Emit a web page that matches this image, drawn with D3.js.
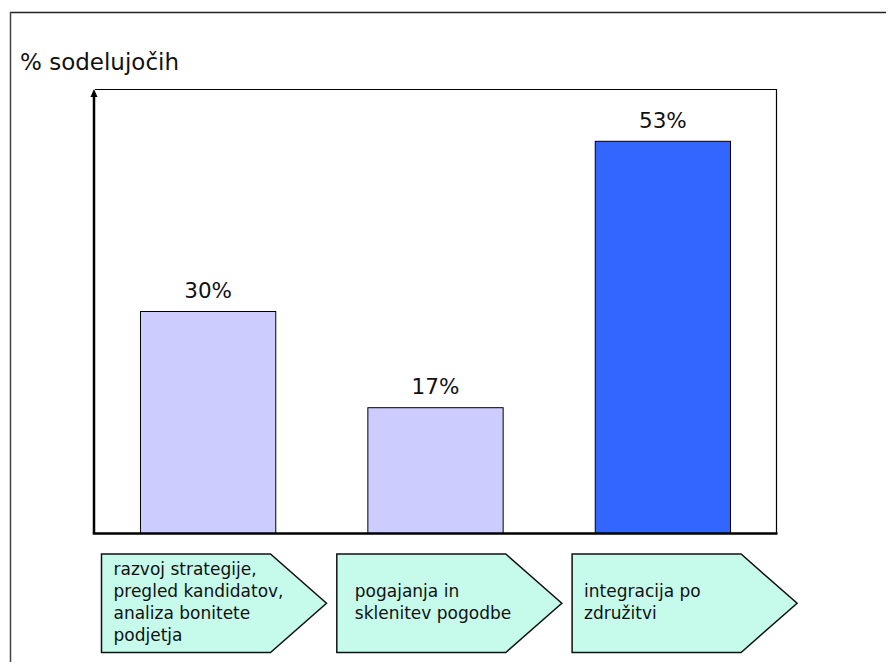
<!DOCTYPE html>
<html>
<head>
<meta charset="utf-8">
<script src="https://cdn.jsdelivr.net/npm/d3@7/dist/d3.min.js"></script>
<style>
  html, body { margin: 0; padding: 0; background: #fff; }
  svg { display: block; }
  text { font-family: "DejaVu Sans", Verdana, sans-serif; fill: #111; }
</style>
</head>
<body>
<svg id="chart" width="891" height="662"></svg>
<script>
// ---- data ----
const categories = ["faza1", "faza2", "faza3"];
const values = [30, 17, 53];
const valueLabels = ["30%", "17%", "53%"];
const barColors = ["#ccccff", "#ccccff", "#3366ff"];
const phaseLabels = [
  ["razvoj strategije,", "pregled kandidatov,", "analiza bonitete", "podjetja"],
  ["pogajanja in", "sklenitev pogodbe"],
  ["integracija po", "združitvi"]
];
const yAxisTitle = "% sodelujočih";

// ---- layout ----
const W = 891, H = 662;
const plot = { left: 95, right: 776, top: 89, bottom: 533 };
const svg = d3.select("#chart");

// outer frame
svg.append("line").attr("x1", 10).attr("x2", 886).attr("y1", 12.5).attr("y2", 12.5)
  .attr("stroke", "#222").attr("stroke-width", 1.5);
svg.append("line").attr("x1", 10.5).attr("x2", 10.5).attr("y1", 12).attr("y2", H)
  .attr("stroke", "#444").attr("stroke-width", 1.5);

// title
svg.append("text").attr("x", 20).attr("y", 70).attr("font-size", 23).text(yAxisTitle);

const x = d3.scaleBand().domain(categories).range([plot.left, plot.right])
  .paddingInner(0.405).paddingOuter(0.2);
const y = d3.scaleLinear().domain([0, 60]).range([plot.bottom, plot.top]);

// thin top and right frame of plot
svg.append("line").attr("x1", plot.left).attr("x2", plot.right + 0.5)
  .attr("y1", plot.top + 0.5).attr("y2", plot.top + 0.5).attr("stroke", "#000").attr("stroke-width", 1);
svg.append("line").attr("x1", plot.right + 0.5).attr("x2", plot.right + 0.5)
  .attr("y1", plot.top).attr("y2", plot.bottom).attr("stroke", "#000").attr("stroke-width", 1.2);

// bars
svg.selectAll("rect.bar").data(values).enter().append("rect")
  .attr("class", "bar")
  .attr("x", (d, i) => x(categories[i]))
  .attr("y", d => y(d) + 0.5)
  .attr("width", x.bandwidth())
  .attr("height", d => y(0) - y(d))
  .attr("fill", (d, i) => barColors[i])
  .attr("stroke", "#000").attr("stroke-width", 1);

// value labels
svg.selectAll("text.val").data(values).enter().append("text")
  .attr("class", "val")
  .attr("x", (d, i) => x(categories[i]) + x.bandwidth() / 2)
  .attr("y", d => y(d) - 13)
  .attr("text-anchor", "middle")
  .attr("font-size", 21.5)
  .text((d, i) => valueLabels[i]);

// axes (thick)
const yAxis = d3.axisLeft(y).tickValues([]).tickSizeOuter(0);
const yg = svg.append("g").attr("transform", `translate(${plot.left - 1},0)`).call(yAxis);
yg.select(".domain").attr("stroke", "#000").attr("stroke-width", 2.5)
  .attr("d", `M0,${plot.bottom + 1}V${plot.top + 4}`);
const xAxis = d3.axisBottom(x).tickValues([]).tickSizeOuter(0);
const xg = svg.append("g").attr("transform", `translate(0,${plot.bottom + 0.5})`).call(xAxis);
xg.select(".domain").attr("stroke", "#000").attr("stroke-width", 2.5)
  .attr("d", `M${plot.left - 2.2},0H${plot.right + 1.5}`);
// arrow head
svg.append("path")
  .attr("d", `M${plot.left - 1},${plot.top} L${plot.left - 4.5},${plot.top + 8} L${plot.left + 2.5},${plot.top + 8} Z`)
  .attr("fill", "#000");

// phase arrows (chevron boxes)
const box = { top: 554, bottom: 652.5, width: 169, tip: 56 };
const boxLeft = d3.scaleBand().domain(categories).range([101.5, 797.1]).paddingInner(0.0438).paddingOuter(0);
const textPad = [12, 18, 12];
const lineH = 22;
const boxMid = (box.top + box.bottom) / 2;

const g = svg.selectAll("g.phase").data(phaseLabels).enter().append("g").attr("class", "phase");
g.append("path")
  .attr("d", (d, i) => {
    const l = boxLeft(categories[i]);
    const r = l + box.width;
    return `M${l},${box.top} L${r},${box.top} L${r + box.tip},${boxMid} L${r},${box.bottom} L${l},${box.bottom} Z`;
  })
  .attr("fill", "#c6faea").attr("stroke", "#111").attr("stroke-width", 1.5);

g.each(function (lines, i) {
  const l = boxLeft(categories[i]);
  const first = boxMid + 5 - (lines.length - 1) * lineH / 2 - 0.5;
  d3.select(this).selectAll("text").data(lines).enter().append("text")
    .attr("x", l + textPad[i])
    .attr("y", (d, k) => first + k * lineH)
    .attr("font-size", 17)
    .text(d => d);
});
</script>
</body>
</html>
